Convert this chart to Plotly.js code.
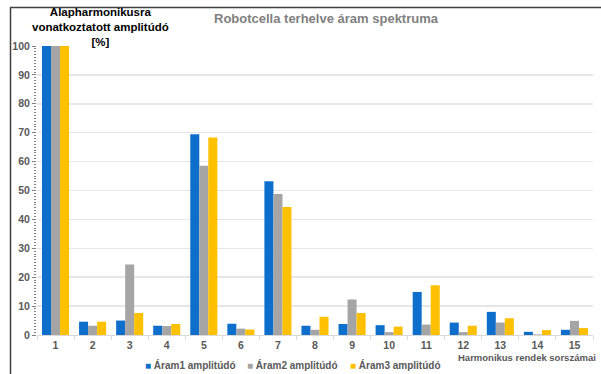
<!DOCTYPE html>
<html>
<head>
<meta charset="utf-8">
<script src="https://cdn.plot.ly/plotly-3.0.1.min.js"></script>
<style>html,body{margin:0;padding:0;background:#fff;}#chart{width:601px;height:374px;}</style>
</head>
<body>
<div id="chart"></div>
<script>
const harmonics = ["1","2","3","4","5","6","7","8","9","10","11","12","13","14","15"];
const aram1 = [100, 4.6, 5.0, 3.2, 69.5, 3.9, 53.2, 3.2, 3.8, 3.4, 14.9, 4.3, 8.0, 1.1, 1.8];
const aram2 = [100, 3.2, 24.4, 3.1, 58.6, 2.2, 48.8, 1.8, 12.3, 1.0, 3.6, 1.0, 4.3, 0.2, 4.9];
const aram3 = [100, 4.6, 7.6, 3.8, 68.3, 1.9, 44.3, 6.3, 7.6, 2.9, 17.2, 3.2, 5.8, 1.7, 2.4];
const seriesNames = ["Áram1 amplitúdó", "Áram2 amplitúdó", "Áram3 amplitúdó"];
const chartTitle = "Robotcella terhelve áram spektruma";
const yTitle = "Alapharmonikusra<br>vonatkoztatott amplitúdó<br>[%]";
const xTitle = "Harmonikus rendek sorszámai";

const colors = ["#0E6ECC", "#A5A5A5", "#FFC000"];
const font = "Liberation Sans, Arial, sans-serif";
const traces = [aram1, aram2, aram3].map((v, i) => ({
  type: "bar", x: harmonics, y: v, name: seriesNames[i],
  marker: {color: colors[i]}, hoverinfo: "skip"
}));

const W = 556, H = 289, L = 37, B = 39;
const px = x => (x - L) / W;
const py = y => (374 - y - B) / H;

const legendX = [143, 245, 348];
const legendAnn = seriesNames.map((n, i) => ({
  text: '<span style="color:' + colors[i] + '">■</span> ' + n,
  xref: "paper", yref: "paper", x: px(legendX[i]), y: py(365),
  xanchor: "left", yanchor: "middle", showarrow: false,
  font: {family: font, size: 10, color: "#595959", weight: "bold"}
}));

const layout = {
  width: 601, height: 374,
  margin: {l: L, r: 8, t: 46, b: B, autoexpand: false},
  paper_bgcolor: "#fff", plot_bgcolor: "#fff",
  font: {family: font, size: 10, color: "#595959"},
  barmode: "group", bargap: 0.27, bargroupgap: 0,
  showlegend: false,
  xaxis: {type: "category", showgrid: false, zeroline: false,
    showline: true, linecolor: "#D9D9D9", linewidth: 1,
    ticks: "outside", tickson: "boundaries", ticklen: 4, tickcolor: "#D9D9D9",
    tickfont: {family: font, size: 10.5, color: "#595959", weight: "bold"}, fixedrange: true},
  yaxis: {range: [0, 100], dtick: 10, showgrid: true, gridcolor: "#E6E6E6", gridwidth: 1.5,
    zeroline: false, showline: false, ticks: "outside", ticklen: 4, tickcolor: "#7F7F7F",
    minor: {dtick: 1, ticks: "outside", ticklen: 2.5, tickcolor: "#7F7F7F", showgrid: false},
    tickfont: {family: font, size: 10.5, color: "#595959", weight: "bold"}, fixedrange: true},
  annotations: [
    {text: chartTitle, xref: "paper", yref: "paper", x: px(326), y: py(18),
     xanchor: "center", yanchor: "middle", showarrow: false,
     font: {family: font, size: 13, color: "#7F7F7F", weight: "bold"}},
    {text: yTitle, xref: "paper", yref: "paper", x: px(100), y: py(27),
     xanchor: "center", yanchor: "middle", showarrow: false,
     font: {family: font, size: 11.5, color: "#000", weight: "bold"}},
    {text: xTitle, xref: "paper", yref: "paper", x: px(598), y: py(357),
     xanchor: "right", yanchor: "middle", showarrow: false,
     font: {family: font, size: 9.5, color: "#595959", weight: "bold"}}
  ].concat(legendAnn),
  shapes: [
    {type: "line", xref: "paper", yref: "paper", x0: px(10.5), x1: px(10.5),
     y0: py(374), y1: py(7.5), line: {color: "#404040", width: 1.5}},
    {type: "line", xref: "paper", yref: "paper", x0: px(10), x1: px(601),
     y0: py(7.5), y1: py(7.5), line: {color: "#404040", width: 1.5}}
  ]
};
Plotly.newPlot("chart", traces, layout, {displayModeBar: false, staticPlot: true});
</script>
</body>
</html>
